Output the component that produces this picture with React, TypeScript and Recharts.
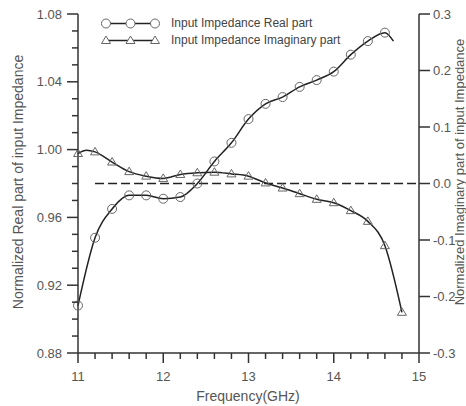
import React from 'react';
import {
  LineChart,
  Line,
  XAxis,
  YAxis,
  ReferenceLine,
} from 'recharts';

// frequencies where Origin put a symbol (GHz)
const markerFreqs = [
  11.0, 11.2, 11.4, 11.6, 11.8, 12.0, 12.2, 12.4, 12.6, 12.8,
  13.0, 13.2, 13.4, 13.6, 13.8, 14.0, 14.2, 14.4, 14.6, 14.8,
];

// normalized real part (left axis), 11.0 .. 14.6
const realValues = [
  0.908, 0.948, 0.965, 0.973, 0.973, 0.971, 0.972, 0.980, 0.993, 1.004,
  1.018, 1.027, 1.031, 1.037, 1.041, 1.046, 1.056, 1.064, 1.069,
];

// normalized imaginary part (right axis), 11.0 .. 14.8
const imagValues = [
  0.053, 0.056, 0.038, 0.021, 0.013, 0.009, 0.016, 0.019, 0.020, 0.017,
  0.013, 0.001, -0.008, -0.018, -0.028, -0.034, -0.048, -0.067, -0.110, -0.228,
];

// extra line points without symbols
const realTail = { f: 14.7, value: 1.064 };
const imagBump = { f: 11.1, value: 0.059 };

const xTicks = [
  11, 11.2, 11.4, 11.6, 11.8, 12, 12.2, 12.4, 12.6, 12.8, 13,
  13.2, 13.4, 13.6, 13.8, 14, 14.2, 14.4, 14.6, 14.8, 15,
];
const leftTicks = [
  0.88, 0.89, 0.9, 0.91, 0.92, 0.93, 0.94, 0.95, 0.96, 0.97, 0.98,
  0.99, 1.0, 1.01, 1.02, 1.03, 1.04, 1.05, 1.06, 1.07, 1.08,
];
const rightTicks = [-0.3, -0.2, -0.1, 0, 0.1, 0.2, 0.3];

const seriesNames = ['Input Impedance Real part', 'Input Impedance Imaginary part'];

const FONT = 'Arial, "Liberation Sans", sans-serif';
const AXIS = '#333';
const LABEL = '#555';

type Row = { f: number; real: number | null; imag: number | null; mark: boolean };

const rows: Row[] = [
  ...markerFreqs.map((f, i) => ({
    f,
    real: i < realValues.length ? realValues[i] : null,
    imag: imagValues[i],
    mark: true,
  })),
  { f: imagBump.f, real: null, imag: imagBump.value, mark: false },
  { f: realTail.f, real: realTail.value, imag: null, mark: false },
].sort((a, b) => a.f - b.f);

const XTick = (props: any) => {
  const { x, y, payload } = props;
  const major = Number.isInteger(payload.value);
  return (
    <g>
      <line x1={x} x2={x} y1={y} y2={y + (major ? 10 : 6)} stroke={AXIS} strokeWidth={1.5} />
      {major && (
        <text x={x} y={y + 28} textAnchor="middle" fontSize={13} fill={LABEL} fontFamily={FONT}>
          {payload.value}
        </text>
      )}
    </g>
  );
};

const LeftTick = (props: any) => {
  const { x, y, payload } = props;
  const major = Math.round(payload.value * 100) % 4 === 0;
  return (
    <g>
      <line x1={x} x2={x - (major ? 11 : 6)} y1={y} y2={y} stroke={AXIS} strokeWidth={1.5} />
      {major && (
        <text x={x - 16} y={y + 4.5} textAnchor="end" fontSize={13} fill={LABEL} fontFamily={FONT}>
          {payload.value.toFixed(2)}
        </text>
      )}
    </g>
  );
};

const RightTick = (props: any) => {
  const { x, y, payload } = props;
  return (
    <g>
      <line x1={x} x2={x + 11} y1={y} y2={y} stroke={AXIS} strokeWidth={1.5} />
      <text x={x + 14} y={y + 4.5} textAnchor="start" fontSize={13} fill={LABEL} fontFamily={FONT}>
        {payload.value.toFixed(1)}
      </text>
    </g>
  );
};

const CircleDot = (props: any) => {
  const { cx, cy, payload, index } = props;
  if (!payload?.mark || cx == null || cy == null) return <g key={`c-${index}`} />;
  return <circle key={`c-${index}`} cx={cx} cy={cy} r={4.5} fill="none" stroke="#666" strokeWidth={1} />;
};

const TriangleDot = (props: any) => {
  const { cx, cy, payload, index } = props;
  if (!payload?.mark || cx == null || cy == null) return <g key={`t-${index}`} />;
  return (
    <path
      key={`t-${index}`}
      d={`M${cx},${cy - 4.5} L${cx + 4.5},${cy + 3} L${cx - 4.5},${cy + 3} Z`}
      fill="none"
      stroke="#666"
      strokeWidth={1}
    />
  );
};

const LegendBox = () => (
  <div
    style={{
      position: 'absolute',
      left: 100,
      top: 15,
      fontFamily: FONT,
      fontSize: 12,
      color: '#444',
      lineHeight: '17px',
    }}
  >
    {seriesNames.map((name, k) => (
      <div key={name} style={{ display: 'flex', alignItems: 'center', height: 17 }}>
        <svg width={62} height={17}>
          <line x1={6} x2={55} y1={8.5} y2={8.5} stroke="#222" strokeWidth={1.5} />
          {[6, 30.5, 55].map((cx) =>
            k === 0 ? (
              <circle key={cx} cx={cx} cy={8.5} r={4.5} fill="#fff" stroke="#666" />
            ) : (
              <path key={cx} d={`M${cx},4 L${cx + 4.5},11.5 L${cx - 4.5},11.5 Z`} fill="#fff" stroke="#666" />
            )
          )}
        </svg>
        <span style={{ marginLeft: 9, whiteSpace: 'nowrap' }}>{name}</span>
      </div>
    ))}
  </div>
);

export default function App() {
  return (
    <div style={{ position: 'absolute', left: 0, top: 0, width: 466, height: 406, background: '#fff' }}>
      <LineChart
        width={466}
        height={406}
        data={rows}
        margin={{ top: 14, right: 0, bottom: 0, left: 0 }}
      >
        <XAxis
          dataKey="f"
          type="number"
          domain={[11, 15]}
          ticks={xTicks}
          interval={0}
          height={53}
          tickSize={0}
          tickMargin={0}
          tick={XTick}
          axisLine={{ stroke: AXIS, strokeWidth: 1.5 }}
          label={() => (
            <text x={248} y={401} textAnchor="middle" fontSize={14} fill={LABEL} fontFamily={FONT}>
              Frequency(GHz)
            </text>
          )}
        />
        <YAxis
          yAxisId="left"
          domain={[0.88, 1.08]}
          ticks={leftTicks}
          interval={0}
          width={78}
          tickSize={0}
          tickMargin={0}
          tick={LeftTick}
          allowDataOverflow
          axisLine={{ stroke: AXIS, strokeWidth: 1.5 }}
          label={() => (
            <text
              x={23}
              y={182}
              transform="rotate(-90 23 182)"
              textAnchor="middle"
              fontSize={14}
              fill={LABEL}
              fontFamily={FONT}
            >
              Normalized Real part of input Impedance
            </text>
          )}
        />
        <YAxis
          yAxisId="right"
          orientation="right"
          domain={[-0.3, 0.3]}
          ticks={rightTicks}
          interval={0}
          width={47}
          tickSize={0}
          tickMargin={0}
          tick={RightTick}
          allowDataOverflow
          axisLine={{ stroke: AXIS, strokeWidth: 1.5 }}
          label={() => (
            <text
              x={464}
              y={172}
              transform="rotate(-90 464 172)"
              textAnchor="middle"
              fontSize={13}
              fill={LABEL}
              fontFamily={FONT}
            >
              Normalized Imaginary part of input Impedance
            </text>
          )}
        />
        <ReferenceLine
          yAxisId="right"
          segment={[{ x: 11.2, y: 0 }, { x: 15, y: 0 }]}
          stroke="#222"
          strokeWidth={1.5}
          strokeDasharray="9 4"
        />
        <Line
          yAxisId="left"
          dataKey="real"
          type="monotone"
          stroke="#222"
          strokeWidth={1.5}
          dot={CircleDot}
          activeDot={false}
          connectNulls
          isAnimationActive={false}
        />
        <Line
          yAxisId="right"
          dataKey="imag"
          type="monotone"
          stroke="#222"
          strokeWidth={1.5}
          dot={TriangleDot}
          activeDot={false}
          connectNulls
          isAnimationActive={false}
        />
      </LineChart>
      <LegendBox />
    </div>
  );
}
